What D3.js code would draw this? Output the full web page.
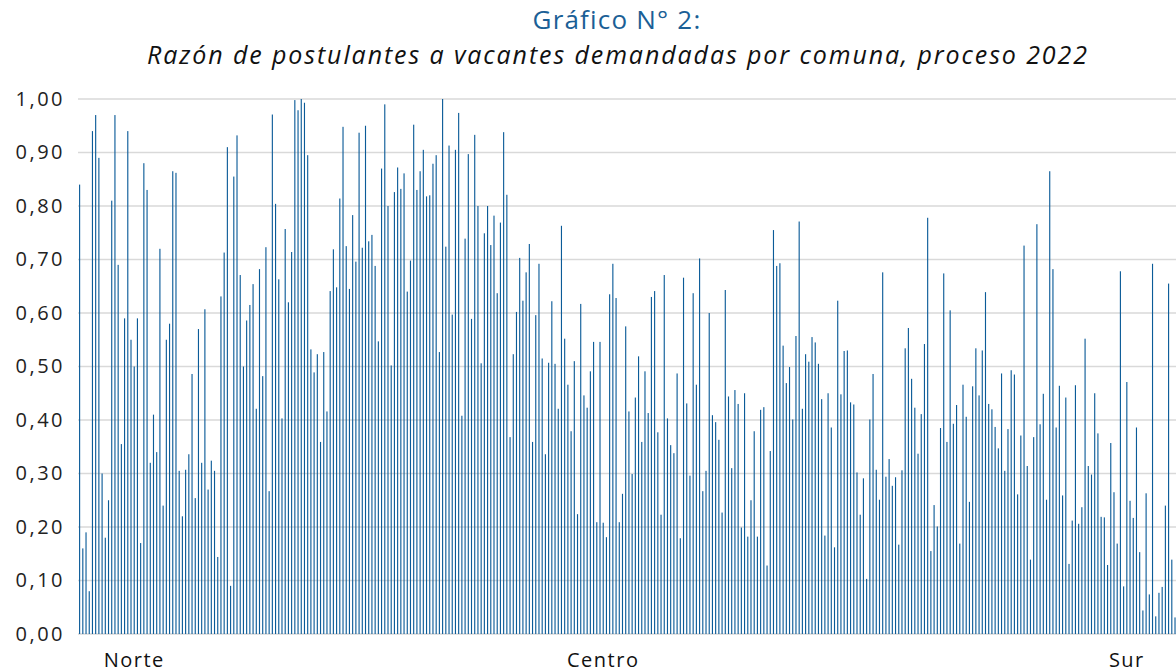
<!DOCTYPE html>
<html>
<head>
<meta charset="utf-8">
<script src="https://cdn.jsdelivr.net/npm/d3@7"></script>
<style>
  body { margin: 0; background: #fff; }
  svg { display: block; }
</style>
</head>
<body>
<svg id="plot"></svg>
<script>
// Data: one ratio per commune (north to south)
const ratios = [
  0.84,0.16,0.19,0.08,0.94,0.97,0.89,0.30,0.18,0.25,0.81,0.97,0.69,0.355,0.59,0.94,0.55,0.50,0.59,0.17,
  0.88,0.83,0.32,0.41,0.34,0.72,0.24,0.55,0.58,0.865,
  0.862,0.305,0.22,0.307,0.336,0.486,0.254,0.57,0.32,0.607,0.27,0.324,0.305,0.144,0.631,0.713,0.91,0.09,0.855,0.932,
  0.671,0.50,0.586,0.615,0.654,0.421,0.682,0.482,0.723,0.267,0.971,
  0.804,0.663,0.403,0.757,0.62,0.714,0.998,0.979,1.0,0.993,0.895,0.532,0.489,0.523,0.359,0.527,0.416,0.641,0.719,0.648,
  0.814,0.948,0.725,0.645,0.783,0.696,0.937,0.722,0.95,0.734,0.746,
  0.688,0.547,0.87,0.99,0.80,0.502,0.826,0.872,0.832,0.861,0.64,0.698,0.952,0.83,0.865,0.905,0.818,0.82,0.879,0.895,
  0.527,1.0,0.724,0.913,0.597,0.905,0.974,0.408,0.739,0.897,0.589,
  0.933,0.80,0.506,0.749,0.80,0.727,0.782,0.637,0.769,0.938,0.821,0.368,0.523,0.602,0.703,0.623,0.676,0.729,0.359,0.596,
  0.692,0.515,0.336,0.507,0.622,0.505,0.421,0.763,0.552,0.466,0.379,
  0.51,0.224,0.617,0.446,0.423,0.491,0.546,0.209,0.546,0.208,0.181,0.635,0.692,0.628,0.209,0.262,0.575,0.416,0.299,0.442,
  0.519,0.359,0.491,0.413,0.63,0.641,0.377,0.223,0.671,0.403,0.353,0.338,
  0.487,0.179,0.666,0.431,0.296,0.637,0.466,0.702,0.267,0.305,0.60,0.409,0.396,0.363,0.227,0.643,0.444,0.31,0.456,0.43,
  0.199,0.45,0.182,0.25,0.379,0.182,0.419,0.424,0.128,0.342,0.755,
  0.688,0.693,0.539,0.469,0.499,0.401,0.557,0.771,0.421,0.523,0.509,0.555,0.545,0.505,0.439,0.184,0.45,0.386,0.162,0.623,
  0.448,0.529,0.53,0.433,0.429,0.302,0.223,0.291,0.103,0.401,0.486,
  0.307,0.251,0.676,0.294,0.327,0.277,0.293,0.167,0.306,0.534,0.572,0.477,0.423,0.337,0.411,0.542,0.778,0.155,0.241,0.201,
  0.385,0.674,0.359,0.605,0.393,0.428,0.169,0.466,0.406,0.247,0.463,
  0.534,0.446,0.53,0.639,0.43,0.42,0.387,0.347,0.487,0.305,0.383,0.493,0.485,0.261,0.371,0.726,0.314,0.139,0.368,0.766,
  0.392,0.449,0.251,0.865,0.682,0.386,0.464,0.259,0.442,0.131,0.212,
  0.465,0.206,0.237,0.552,0.314,0.298,0.45,0.375,0.219,0.218,0.129,0.357,0.265,0.169,0.678,0.089,0.471,0.249,0.217,0.386,
  0.153,0.044,0.263,0.074,0.692,0.033,0.077,0.088,0.24,0.655,0.139,0.031
];
const zones = ["Norte", "Centro", "Sur"];
const zoneAt = [17, 163, 326];          // bar index under each zone label
const yTicks = [0, 0.1, 0.2, 0.3, 0.4, 0.5, 0.6, 0.7, 0.8, 0.9, 1.0];

const titleText = "Gráfico N° 2:";
const subtitleText = "Razón de postulantes a vacantes demandadas por comuna, proceso 2022";

let width = 1176, height = 672;
let margin = { top: 99, bottom: 38, left: 78, right: 0 };

let svg = d3.select('#plot')
  .attr('width', width)
  .attr('height', height)
  .style('background', 'white');

let xScale = d3.scaleBand()
  .domain(d3.range(ratios.length))
  .range([78.4, 78.4 + ratios.length * 3.21])
  .paddingInner(0.65)
  .paddingOuter(0.2);

let yScale = d3.scaleLinear()
  .domain([0, 1])
  .range([height - margin.bottom, margin.top]);

// gridlines
svg.append('g')
  .selectAll('line')
  .data(yTicks)
  .enter()
  .append('line')
  .attr('x1', margin.left)
  .attr('x2', width)
  .attr('y1', d => yScale(d))
  .attr('y2', d => yScale(d))
  .attr('stroke', '#d9d9d9')
  .attr('stroke-width', 1.5);

// y axis labels
let yAxis = svg.append('g')
  .attr('transform', `translate(65, 0)`)
  .call(d3.axisLeft(yScale)
    .tickValues(yTicks)
    .tickSize(0)
    .tickPadding(0)
    .tickFormat(d => d3.format('.2f')(d).replace('.', ',')));
yAxis.select('.domain').remove();
yAxis.selectAll('text')
  .style('font-family', '"Open Sans", sans-serif')
  .style('font-size', '20px')
  .style('letter-spacing', '2.5px')
  .style('fill', '#222');

// bars
svg.append('g')
  .selectAll('rect')
  .data(ratios)
  .enter()
  .append('rect')
  .attr('x', (d, i) => xScale(i))
  .attr('y', d => yScale(d))
  .attr('width', xScale.bandwidth())
  .attr('height', d => yScale(0) - yScale(d))
  .attr('fill', '#0b5b98');

// zone labels
svg.append('g')
  .selectAll('text')
  .data(zones)
  .enter()
  .append('text')
  .attr('x', (d, i) => xScale(zoneAt[i]) + xScale.bandwidth() / 2)
  .attr('y', 667)
  .attr('text-anchor', 'middle')
  .style('font-family', '"Open Sans", sans-serif')
  .style('font-size', '20px')
  .style('letter-spacing', '1.5px')
  .style('fill', '#111')
  .text(d => d);

// titles
svg.append('text')
  .attr('x', 617)
  .attr('y', 29)
  .attr('text-anchor', 'middle')
  .style('font-family', '"Open Sans", sans-serif')
  .style('font-size', '26px')
  .style('letter-spacing', '1.2px')
  .style('fill', '#1b5f96')
  .text(titleText);

svg.append('text')
  .attr('x', 617)
  .attr('y', 64)
  .attr('text-anchor', 'middle')
  .attr('textLength', 940)
  .attr('lengthAdjust', 'spacing')
  .style('font-family', '"Open Sans", sans-serif')
  .style('font-size', '25px')
  .style('font-style', 'italic')
  .style('fill', '#111')
  .text(subtitleText);
</script>
</body>
</html>
